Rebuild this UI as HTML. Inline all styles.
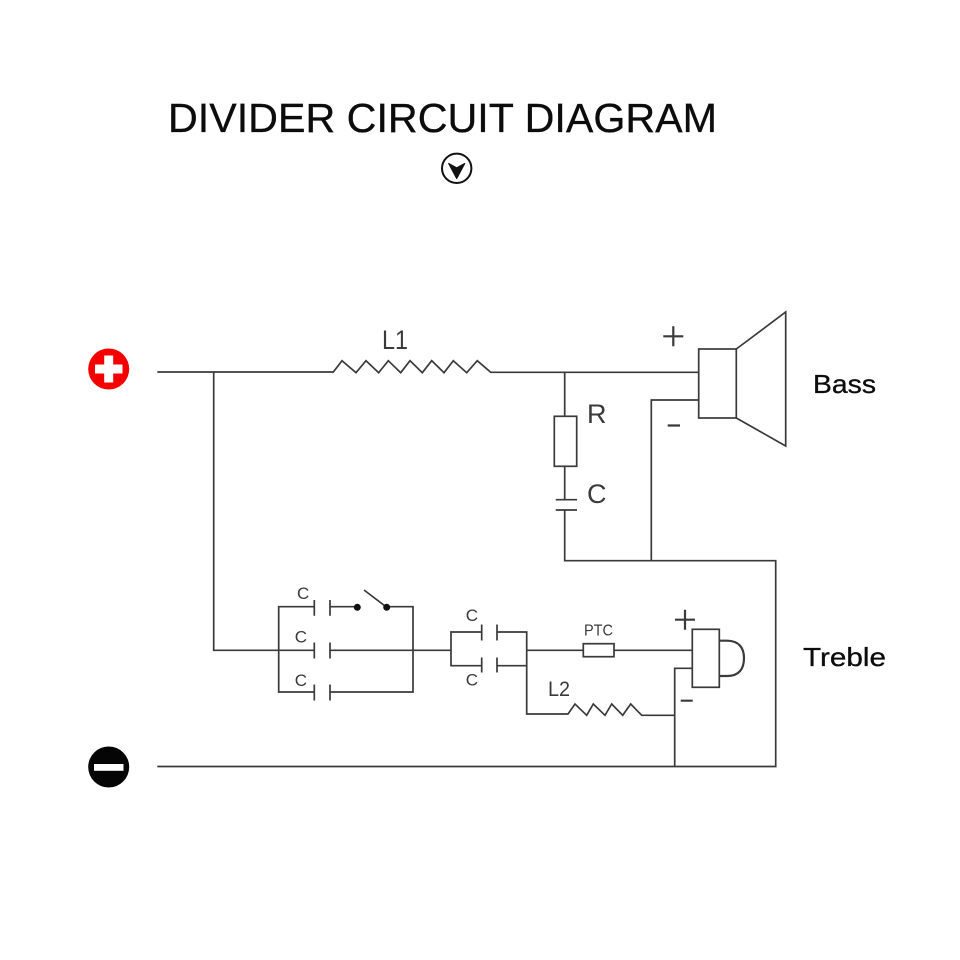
<!DOCTYPE html>
<html><head><meta charset="utf-8"><title>Divider Circuit Diagram</title>
<style>html,body{margin:0;padding:0;background:#fff}svg{display:block}</style></head>
<body>
<svg width="960" height="960" viewBox="0 0 960 960" xmlns="http://www.w3.org/2000/svg">
<rect width="960" height="960" fill="#fff"/>
<g font-family="'Liberation Sans',sans-serif" fill="#0c0c0c" stroke="#0c0c0c" stroke-width="0.3">
<text x="168" y="132" font-size="41" textLength="549" lengthAdjust="spacingAndGlyphs">DIVIDER CIRCUIT DIAGRAM</text>
<text x="813" y="393" font-size="26" textLength="63" lengthAdjust="spacingAndGlyphs">Bass</text>
<text x="803" y="666" font-size="26" textLength="83" lengthAdjust="spacingAndGlyphs">Treble</text>
</g>
<circle cx="456.7" cy="168.3" r="14.7" fill="none" stroke="#111" stroke-width="2"/>
<polygon points="448.7,163.5 456.7,167.9 464.700,163.500 456.700,178.500" fill="#111" stroke="#111" stroke-width="1.200" stroke-linejoin="round"/>
<circle cx="108.7" cy="369" r="20.5" fill="#f40000"/>
<rect x="95" y="364.5" width="27.500" height="9" fill="#fff"/>
<rect x="104.200" y="355.500" width="9" height="27" fill="#fff"/>
<circle cx="108.700" cy="767" r="20.500" fill="#050505"/>
<rect x="94" y="764" width="29.500" height="6.800" fill="#fff"/>
<g fill="none" stroke="#3a3a3c" stroke-width="1.700" stroke-linejoin="miter">
<path d="M157.300 372H333.300L342 360.700L356 372.700L366 360.700L378.700 372.700L388.300 360.700L400.700 372.700L410 360.700L422.300 372.700L431.700 360.700L444 372.700L453.300 360.700L466.700 372.700L477.300 360.700L490.700 372.300H698.700"/>
<path d="M213.700 372V650.300H279"/>
<path d="M564.700 372V416.300M564.700 466.300V499.700M564.700 510V560.700H775.700V766.500H157.300"/>
<rect x="554.300" y="416.300" width="22.400" height="50"/>
<path d="M555.700 499.700H577M555.700 510H577"/>
<path d="M651.300 560.700V400H698.700"/>
<rect x="698.700" y="349" width="37.600" height="69"/>
<path d="M736.300 349L785.700 312V446L736.300 418"/>
<path d="M314.300 606.700H278.700V692H314.300M278.700 650.300H314.300"/>
<path d="M314.300 600V615.700M330 600V615.700M314.300 642.500V658.500M330 642.500V658.500M314.300 684.500V700.500M330 684.500V700.500"/>
<path d="M330 606.700H357.300M364 590L386.700 607.300M386.700 606.700H413V692H330M330 650.300H451"/>
<path d="M481.700 632H451V665.700H481.700"/>
<path d="M481.700 624.500V640.500M497 624.500V640.500M481.700 657.500V672.500M497 657.500V672.500"/>
<path d="M497 632H526.700V714H568L575 704L586.700 715.300L593.300 704L605 715.300L611.700 704L622.700 715.300L630.700 704L641.700 715.300H674.700M497 665.700H526.700M526.700 650.300H583.300M614 650.300H692.300"/>
<rect x="583.300" y="643.700" width="30.700" height="13"/>
<rect x="692.300" y="629.300" width="27" height="58"/>
<path d="M674.700 766.500V668.300H692.300"/>
<path d="M719.300 640.700H727C739 640.700 744 648 744 658C744 669 739 676 727 676H719.300" stroke-width="2.200"/>
<path d="M663.300 336.300H683.300M673.300 326.300V346.300M667.700 425.500H680M675 619.700H695M685 609.700V629.700M680.700 700.700H692.700" stroke-width="2.200"/>
</g>
<circle cx="357.300" cy="607.300" r="3.500" fill="#111"/>
<circle cx="386.700" cy="607.300" r="3.500" fill="#111"/>
<g font-family="'Liberation Sans',sans-serif" fill="#3a3a3c">
<text x="382" y="349" font-size="27" textLength="26" lengthAdjust="spacingAndGlyphs">L1</text>
<text x="587" y="423" font-size="27">R</text>
<text x="587" y="503" font-size="27">C</text>
<text x="297" y="599" font-size="17">C</text>
<text x="294.700" y="642.700" font-size="17">C</text>
<text x="294.700" y="686" font-size="17">C</text>
<text x="465.700" y="621" font-size="17">C</text>
<text x="465.700" y="685.700" font-size="17">C</text>
<text x="584" y="635.700" font-size="16" textLength="29" lengthAdjust="spacingAndGlyphs">PTC</text>
<text x="548" y="696" font-size="21" textLength="22" lengthAdjust="spacingAndGlyphs">L2</text>
</g>
</svg>
</body></html>
